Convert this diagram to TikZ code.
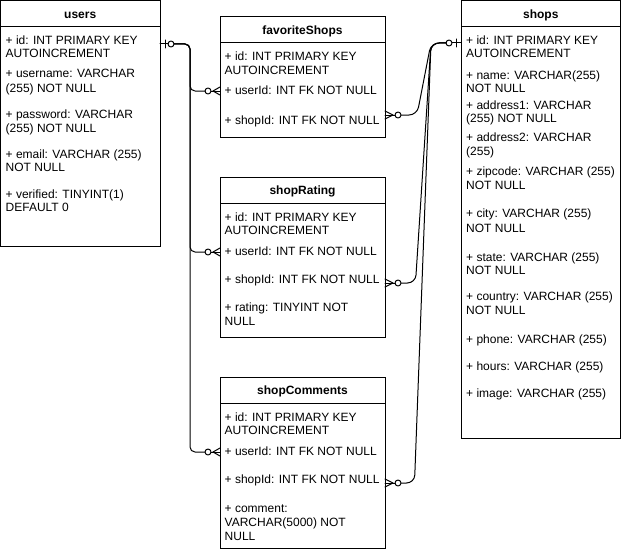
\documentclass[tikz,border=0pt]{standalone}
\usepackage{fontspec}
\setmainfont{Liberation Sans}
\newcommand{\erfont}{\fontsize{12}{14}\selectfont}
\tikzset{
  tbl/.style={draw, line width=1pt, anchor=north west, inner sep=0pt, outer sep=0pt},
  fld/.style={anchor=west, inner sep=0pt, text height=8.6pt, text depth=0pt, font=\erfont},
  ttl/.style={inner sep=0pt, text height=8.6pt, text depth=0pt, font=\erfont\bfseries},
  conn/.style={line width=1pt, line cap=round, line join=round},
  hdr/.style={line width=1pt},
}
\begin{document}
\begin{tikzpicture}[x=1pt,y=-1pt]
\useasboundingbox (0,0) rectangle (621,551);
\fill[white] (0,0) rectangle (621,551);

% tables
\node[tbl, minimum width=159.5pt, minimum height=246pt] (users) at (0.5,0.5) {};
\node[tbl, minimum width=165pt, minimum height=120pt] (fav) at (220,17) {};
\node[tbl, minimum width=165pt, minimum height=160pt] (rat) at (220,177) {};
\node[tbl, minimum width=165pt, minimum height=171pt] (com) at (220,377) {};
\node[tbl, minimum width=159.5pt, minimum height=437.5pt] (shops) at (461,0.5) {};

% header lines
\foreach \t in {users,fav,rat,com,shops}
  \draw[hdr] ([yshift=-26pt]\t.north west) -- ([yshift=-26pt]\t.north east);

% titles
\node[ttl] (usersT) at ([yshift=-13.5pt]users.north) {users};
\node[ttl] (favT) at ([yshift=-13.5pt]fav.north) {favoriteShops};
\node[ttl] (ratT) at ([yshift=-13.5pt]rat.north) {shopRating};
\node[ttl] (comT) at ([yshift=-13.5pt]com.north) {shopComments};
\node[ttl] (shopsT) at ([yshift=-13.5pt]shops.north) {shops};

% users fields
\node[fld] (u1a) at (5.5,40) {+ id: INT PRIMARY KEY};
\node[fld] (u1b) at (5.5,53.5) {AUTOINCREMENT};
\node[fld] (u2a) at (5.5,73.5) {+ username: VARCHAR};
\node[fld] (u2b) at (5.5,88) {(255) NOT NULL};
\node[fld] (u3a) at (5.5,114) {+ password: VARCHAR};
\node[fld] (u3b) at (5.5,127.7) {(255) NOT NULL};
\node[fld] (u4a) at (5.5,154) {+ email: VARCHAR (255)};
\node[fld] (u4b) at (5.5,167.5) {NOT NULL};
\node[fld] (u5a) at (5.5,194) {+ verified: TINYINT(1)};
\node[fld] (u5b) at (5.5,207.5) {DEFAULT 0};

% favoriteShops fields
\node[fld] (f1a) at (224.5,56.7) {+ id: INT PRIMARY KEY};
\node[fld] (f1b) at (224.5,70.5) {AUTOINCREMENT};
\node[fld] (f2) at (224.5,90.7) {+ userId: INT FK NOT NULL};
\node[fld] (f3) at (224.5,120) {+ shopId: INT FK NOT NULL};

% shopRating fields
\node[fld] (r1a) at (224.5,216.7) {+ id: INT PRIMARY KEY};
\node[fld] (r1b) at (224.5,230.5) {AUTOINCREMENT};
\node[fld] (r2) at (224.5,250.7) {+ userId: INT FK NOT NULL};
\node[fld] (r3) at (224.5,279.5) {+ shopId: INT FK NOT NULL};
\node[fld] (r4a) at (224.5,307.5) {+ rating: TINYINT NOT};
\node[fld] (r4b) at (224.5,321.5) {NULL};

% shopComments fields
\node[fld] (c1a) at (224.5,416.7) {+ id: INT PRIMARY KEY};
\node[fld] (c1b) at (224.5,430.5) {AUTOINCREMENT};
\node[fld] (c2) at (224.5,450.7) {+ userId: INT FK NOT NULL};
\node[fld] (c3) at (224.5,479.5) {+ shopId: INT FK NOT NULL};
\node[fld] (c4a) at (224.5,507.7) {+ comment:};
\node[fld] (c4b) at (224.5,521.7) {VARCHAR(5000) NOT};
\node[fld] (c4c) at (224.5,535.7) {NULL};

% shops fields
\node[fld] (s1a) at (466,40) {+ id: INT PRIMARY KEY};
\node[fld] (s1b) at (466,53.5) {AUTOINCREMENT};
\node[fld] (s2a) at (466,75) {+ name: VARCHAR(255)};
\node[fld] (s2b) at (466,88.5) {NOT NULL};
\node[fld] (s3a) at (466,105) {+ address1: VARCHAR};
\node[fld] (s3b) at (466,118.5) {(255) NOT NULL};
\node[fld] (s4a) at (466,137.5) {+ address2: VARCHAR};
\node[fld] (s4b) at (466,151.5) {(255)};
\node[fld] (s5a) at (466,170.7) {+ zipcode: VARCHAR (255)};
\node[fld] (s5b) at (466,185) {NOT NULL};
\node[fld] (s6a) at (466,213.5) {+ city: VARCHAR (255)};
\node[fld] (s6b) at (466,228.3) {NOT NULL};
\node[fld] (s7a) at (466,256.7) {+ state: VARCHAR (255)};
\node[fld] (s7b) at (466,270) {NOT NULL};
\node[fld] (s8a) at (466,296) {+ country: VARCHAR (255)};
\node[fld] (s8b) at (466,310) {NOT NULL};
\node[fld] (s9) at (466,339.3) {+ phone: VARCHAR (255)};
\node[fld] (s10) at (466,366) {+ hours: VARCHAR (255)};
\node[fld] (s11) at (466,392.7) {+ image: VARCHAR (255)};

% connection points
\coordinate (uid) at (users.east |- 0,44);
\coordinate (sid) at (shops.west |- 0,43);
\coordinate (fu) at (fav.west |- 0,91);
\coordinate (ru) at (rat.west |- 0,252);
\coordinate (cu) at (com.west |- 0,452);
\coordinate (fs) at (fav.east |- 0,115);
\coordinate (rs) at (rat.east |- 0,283);
\coordinate (cs) at (com.east |- 0,483);

% users side: one (optional) mark
\draw[conn] (uid) -- ++(8,0);
\draw[conn] ([xshift=5pt,yshift=4pt]uid) -- ([xshift=5pt,yshift=-4pt]uid);
\draw[conn] ([xshift=11pt]uid) circle (3pt);

% users -> child tables
\foreach \tgt in {fu,ru,cu}{
  \draw[conn, rounded corners=5pt] ([xshift=14pt]uid) -- (190,44) -- (190,0 |- \tgt) -- ([xshift=-15pt]\tgt);
  \draw[conn] ([xshift=-12pt]\tgt) circle (3pt);
  \draw[conn] ([xshift=-9pt]\tgt) -- (\tgt);
  \draw[conn] ([xshift=-7pt]\tgt) -- ([yshift=4pt]\tgt);
  \draw[conn] ([xshift=-7pt]\tgt) -- ([yshift=-4pt]\tgt);
}

% shops side: one (optional) mark
\draw[conn] (sid) -- ++(-9,0);
\draw[conn] ([xshift=-5pt,yshift=4pt]sid) -- ([xshift=-5pt,yshift=-4pt]sid);
\draw[conn] ([xshift=-12pt]sid) circle (3pt);

% shops -> child tables
\draw[conn, rounded corners=8pt] ([xshift=-15pt]sid) -- (431,43) -- (417,115) -- ([xshift=16pt]fs);
\draw[conn, rounded corners=8pt] ([xshift=-15pt]sid) -- (431,43) -- (415.5,283) -- ([xshift=16pt]rs);
\draw[conn, rounded corners=8pt] ([xshift=-15pt]sid) -- (431,43) -- (414.5,483) -- ([xshift=16pt]cs);
\foreach \tgt in {fs,rs,cs}{
  \draw[conn] ([xshift=13pt]\tgt) circle (3pt);
  \draw[conn] ([xshift=10pt]\tgt) -- (\tgt);
  \draw[conn] ([xshift=8pt]\tgt) -- ([yshift=4pt]\tgt);
  \draw[conn] ([xshift=8pt]\tgt) -- ([yshift=-4pt]\tgt);
}
\end{tikzpicture}
\end{document}
